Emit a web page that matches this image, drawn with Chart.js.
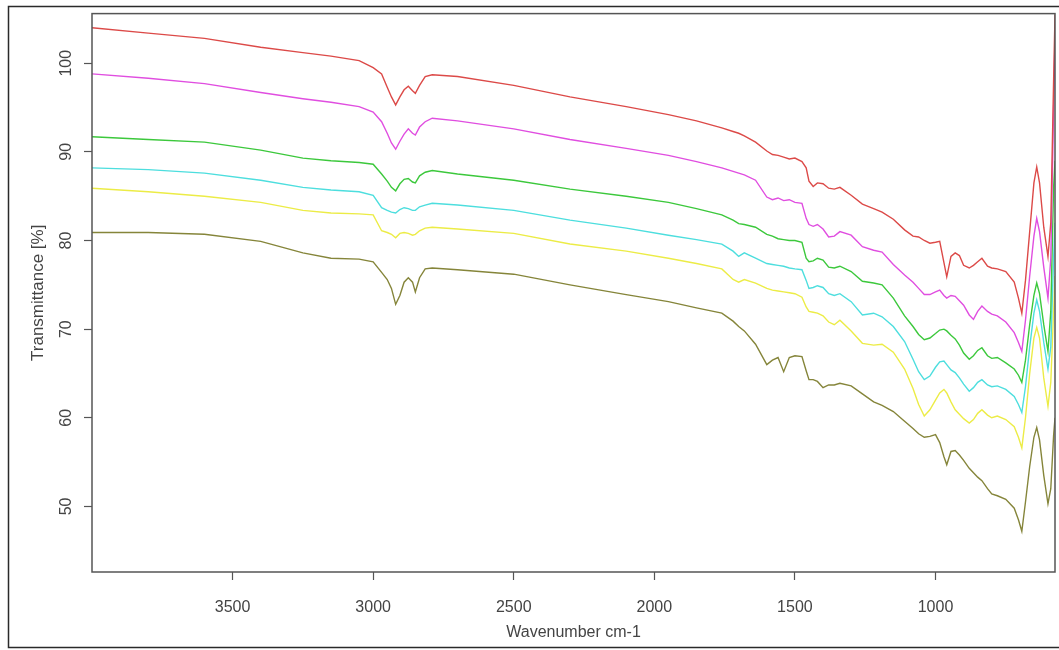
<!DOCTYPE html>
<html>
<head>
<meta charset="utf-8">
<script src="https://cdn.jsdelivr.net/npm/chart.js@4.4.1/dist/chart.umd.min.js"></script>
<style>
  html, body { margin: 0; padding: 0; background: #ffffff; }
  #wrap { width: 1059px; height: 650px; position: relative; }
</style>
</head>
<body>
<div id="wrap"><canvas id="c" width="1059" height="650"></canvas></div>
<script>
// Wavenumber (cm-1) sampling positions, shared by all spectra
const wavenumbers = [4000,3800,3600,3400,3250,3150,3050,3000,2970,2950,2935,2920,2905,2890,2875,2860,2850,2835,2815,2790,2700,2500,2300,2100,1950,1850,1760,1720,1700,1680,1640,1600,1580,1560,1540,1520,1500,1475,1460,1450,1435,1420,1400,1380,1360,1340,1300,1260,1220,1190,1150,1110,1080,1060,1040,1020,1000,985,970,960,945,930,915,900,880,865,850,835,815,800,780,750,720,705,693,680,665,650,640,630,615,600,590,580,575];

const redSeries = [104.0,103.4,102.8,101.8,101.2,100.8,100.3,99.5,98.8,97.3,96.2,95.3,96.2,97.0,97.4,96.9,96.6,97.5,98.5,98.7,98.5,97.5,96.2,95.1,94.2,93.5,92.7,92.3,92.1,91.8,91.1,90.1,89.7,89.6,89.4,89.2,89.3,88.9,88.2,86.7,86.1,86.5,86.4,85.9,85.8,86.0,85.1,84.1,83.6,83.2,82.4,81.2,80.5,80.4,80.0,79.7,79.8,79.9,77.5,75.9,78.2,78.6,78.3,77.2,76.9,77.2,77.6,78.0,77.1,76.9,76.8,76.5,75.3,73.5,71.8,75.5,81.0,86.5,88.3,86.5,81.5,78.2,82.0,98.0,105.5];

const magentaSeries = [98.8,98.3,97.7,96.7,96.0,95.6,95.1,94.5,93.4,92.1,91.0,90.3,91.2,92.0,92.6,92.1,91.9,92.8,93.4,93.8,93.5,92.6,91.4,90.4,89.6,88.9,88.2,87.8,87.6,87.4,86.8,84.9,84.6,84.8,84.5,84.6,84.3,84.2,82.5,81.8,81.6,81.8,81.3,80.4,80.5,81.0,80.6,79.3,78.9,78.7,77.3,76.1,75.3,74.6,73.9,73.9,74.2,74.4,73.8,73.5,73.8,73.7,73.2,72.7,71.6,71.1,72.0,72.6,72.0,71.7,71.5,70.8,69.6,68.5,67.5,71.0,76.0,80.5,82.5,81.0,77.0,73.5,78.0,95.0,103.0];

const greenSeries = [91.7,91.4,91.1,90.2,89.3,89.0,88.8,88.6,87.5,86.7,86.0,85.6,86.4,86.9,87.0,86.6,86.5,87.3,87.7,87.9,87.5,86.8,85.8,85.0,84.3,83.6,82.9,82.3,81.9,81.8,81.5,80.7,80.5,80.2,80.1,80.0,80.0,79.8,78.0,77.6,77.7,78.0,77.8,77.0,76.9,77.1,76.5,75.4,75.2,75.0,73.5,71.5,70.3,69.4,68.8,69.0,69.5,69.9,70.0,69.8,69.3,68.9,68.2,67.3,66.6,67.0,67.6,67.9,67.0,66.7,66.8,66.2,65.5,64.8,64.0,66.5,70.5,73.8,75.2,74.0,70.5,67.5,72.0,86.0,89.0];

const cyanSeries = [88.2,88.0,87.6,86.8,86.0,85.7,85.5,85.1,83.7,83.4,83.2,83.1,83.5,83.7,83.6,83.4,83.4,83.8,84.0,84.2,84.0,83.4,82.3,81.4,80.6,80.1,79.6,78.8,78.2,78.6,78.0,77.4,77.3,77.2,77.1,76.9,76.8,76.7,75.5,74.6,74.7,74.9,74.7,74.0,73.8,74.0,73.1,71.6,71.8,71.4,70.3,68.6,66.6,65.2,64.3,64.7,65.7,66.3,66.4,66.0,65.4,65.1,64.5,63.8,63.0,63.4,64.0,64.3,63.7,63.5,63.6,63.2,62.4,61.5,60.6,63.5,68.0,71.8,73.3,72.0,68.5,65.5,68.0,78.0,82.0];

const yellowSeries = [85.9,85.5,85.0,84.3,83.4,83.1,83.0,82.9,81.1,80.9,80.7,80.3,80.8,80.9,80.8,80.6,80.7,81.1,81.4,81.5,81.3,80.8,79.6,78.8,78.0,77.4,76.8,75.6,75.3,75.6,75.2,74.6,74.4,74.3,74.2,74.1,74.0,73.6,72.5,72.0,71.9,71.8,71.5,70.8,70.5,71.0,69.8,68.4,68.2,68.3,67.4,65.5,63.3,61.5,60.2,60.9,62.0,62.8,63.2,62.8,61.8,60.9,60.4,59.9,59.4,59.8,60.5,60.9,60.3,60.0,60.2,59.8,59.0,57.8,56.6,60.0,65.0,69.0,70.2,69.0,64.5,61.3,64.0,72.0,76.0];

const oliveSeries = [80.9,80.9,80.7,79.9,78.6,78.0,77.9,77.6,76.4,75.6,74.6,72.8,73.8,75.3,75.8,75.3,74.2,75.8,76.8,76.9,76.7,76.2,75.0,73.9,73.1,72.4,71.8,70.9,70.3,69.8,68.3,66.0,66.5,66.8,65.2,66.8,67.0,66.9,65.3,64.3,64.3,64.1,63.4,63.7,63.7,63.9,63.6,62.7,61.8,61.4,60.7,59.6,58.8,58.2,57.8,57.9,58.1,57.2,55.6,54.7,56.2,56.3,55.8,55.2,54.3,53.8,53.3,52.9,52.0,51.4,51.2,50.8,49.8,48.5,47.2,50.5,54.5,57.8,58.9,57.5,53.5,50.3,52.0,58.0,60.0];

const xTickValues = [3500, 3000, 2500, 2000, 1500, 1000];
const yTickValues = [50, 60, 70, 80, 90, 100];

const seriesList = [
  { name: 'red', values: redSeries, color: '#dc4a48' },
  { name: 'magenta', values: magentaSeries, color: '#e04ee0' },
  { name: 'green', values: greenSeries, color: '#3cc83c' },
  { name: 'cyan', values: cyanSeries, color: '#4ddede' },
  { name: 'yellow', values: yellowSeries, color: '#ecec46' },
  { name: 'olive', values: oliveSeries, color: '#85853a' }
];

const FONT = { family: '"Liberation Sans", Arial, sans-serif', size: 16 };
const TEXT = '#444444';

const framePlugin = {
  id: 'frames',
  beforeDraw(chart) {
    const ctx = chart.ctx;
    ctx.save();
    ctx.fillStyle = '#ffffff';
    ctx.fillRect(0, 0, chart.width, chart.height);
    ctx.strokeStyle = '#2a2a2a';
    ctx.lineWidth = 1.5;
    ctx.strokeRect(8.5, 6.5, 1062, 641);
    ctx.restore();
  },
  afterDraw(chart) {
    const a = chart.chartArea;
    const ctx = chart.ctx;
    ctx.save();
    ctx.strokeStyle = '#555555';
    ctx.lineWidth = 1.5;
    ctx.strokeRect(a.left, a.top, a.right - a.left, a.bottom - a.top);
    ctx.restore();
  }
};

new Chart(document.getElementById('c'), {
  type: 'line',
  data: {
    datasets: seriesList.map(s => ({
      label: s.name,
      data: wavenumbers.map((w, i) => ({ x: w, y: s.values[i] })),
      borderColor: s.color,
      borderWidth: 1.4,
      pointRadius: 0,
      fill: false,
      tension: 0
    }))
  },
  options: {
    responsive: false,
    animation: false,
    events: [],
    layout: { padding: { left: 0, right: 4, top: 13, bottom: 0 } },
    plugins: { legend: { display: false }, tooltip: { enabled: false } },
    scales: {
      x: {
        type: 'linear',
        reverse: true,
        min: 575,
        max: 4000,
        afterBuildTicks: s => { s.ticks = xTickValues.map(v => ({ value: v })); },
        afterFit: s => { s.height = 78; },
        border: { display: false },
        grid: { drawOnChartArea: false, drawTicks: true, tickLength: 8, color: '#555555', tickWidth: 1.2 },
        ticks: { font: FONT, color: TEXT, padding: 18, maxRotation: 0, autoSkip: false, callback: v => String(v) },
        title: { display: true, text: 'Wavenumber cm-1', font: FONT, color: TEXT, padding: { top: 0, bottom: 8 } }
      },
      y: {
        type: 'linear',
        min: 42.6,
        max: 105.6,
        afterBuildTicks: s => { s.ticks = yTickValues.map(v => ({ value: v })); },
        afterFit: s => { s.width = 92; },
        border: { display: false },
        grid: { drawOnChartArea: false, drawTicks: true, tickLength: 8, color: '#555555', tickWidth: 1.2 },
        ticks: { font: FONT, color: TEXT, padding: 4, minRotation: 90, maxRotation: 90, crossAlign: 'center', autoSkip: false, callback: v => String(v) },
        title: { display: true, text: 'Transmittance [%]', font: { family: FONT.family, size: 17 }, color: TEXT, padding: { top: 28, bottom: 0 } }
      }
    }
  },
  plugins: [framePlugin]
});
</script>
</body>
</html>
